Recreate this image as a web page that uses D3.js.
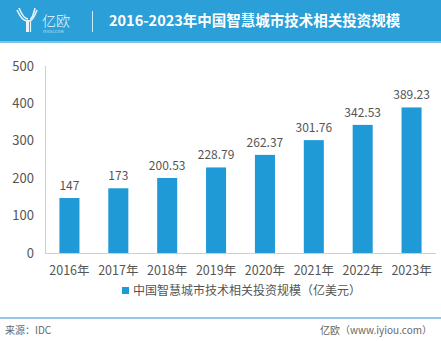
<!DOCTYPE html>
<html>
<head>
<meta charset="utf-8">
<script src="https://cdn.jsdelivr.net/npm/d3@7"></script>
<style>
  html, body { margin: 0; padding: 0; background: #fff; }
  svg { display: block; font-family: "Noto Sans CJK SC", "Noto Sans", sans-serif; }
</style>
</head>
<body>
<svg id="chart" width="441" height="341"></svg>
<script>
const years = ["2016年", "2017年", "2018年", "2019年", "2020年", "2021年", "2022年", "2023年"];
const investment = [147, 173, 200.53, 228.79, 262.37, 301.76, 342.53, 389.23];
const yTicks = [0, 100, 200, 300, 400, 500];
const title = "2016-2023年中国智慧城市技术相关投资规模";
const seriesName = "中国智慧城市技术相关投资规模（亿美元）";
const sourceText = "来源：IDC";
const creditText = "亿欧（www.iyiou.com）";

const svg = d3.select("#chart");
const blue = "#1f9ad6";

// Header band
svg.append("rect").attr("x", 0).attr("y", 0).attr("width", 441).attr("height", 41).attr("fill", "#2a9fd8");
svg.append("rect").attr("x", 0).attr("y", 41).attr("width", 441).attr("height", 2).attr("fill", "#7cc3e6");

// Logo mark: stylised "Y" strokes
const logo = svg.append("g").attr("fill", "none").attr("stroke", "#e6f4fb").attr("stroke-width", 1.6);
[[17, 10, 27, 19], [19, 8, 28, 17], [37, 10, 29, 19], [35, 8, 30, 17]].forEach(d => {
  logo.append("path").attr("d", `M${d[0]},${d[1]} Q${(d[0] + d[2]) / 2},${d[3] + 2} ${d[2]},${d[3] + 2}`);
});
logo.append("line").attr("x1", 27.5).attr("x2", 27.5).attr("y1", 20).attr("y2", 32).attr("stroke-width", 3);
logo.append("line").attr("x1", 30.5).attr("x2", 30.5).attr("y1", 20).attr("y2", 32).attr("stroke-width", 1.2);
svg.append("text").attr("x", 42).attr("y", 26).attr("fill", "#eef8fd").attr("font-size", 14).attr("font-weight", 300).text("亿欧");
svg.append("text").attr("x", 43).attr("y", 33).attr("fill", "#d8eef9").attr("font-size", 3.6).attr("letter-spacing", 0.3).text("IYIOU.COM");
svg.append("line").attr("x1", 92.5).attr("x2", 92.5).attr("y1", 11).attr("y2", 32).attr("stroke", "#cfe9f6").attr("stroke-width", 1);
svg.append("text").attr("x", 109).attr("y", 26).attr("fill", "#fff").attr("font-size", 14.5).attr("font-weight", 700).text(title);

// Plot area
const x = d3.scaleBand().domain(years).range([45, 436]).paddingInner(0.59).paddingOuter(0.295);
const y = d3.scaleLinear().domain([0, 500]).range([253, 66]);

// Axes lines
svg.append("line").attr("x1", 45.5).attr("x2", 45.5).attr("y1", y(500)).attr("y2", y(0)).attr("stroke", "#cfcfcf");
svg.append("line").attr("x1", 45).attr("x2", 436).attr("y1", y(0) + 0.5).attr("y2", y(0) + 0.5).attr("stroke", "#cfcfcf");

// Y tick labels
svg.append("g").selectAll("text").data(yTicks).join("text")
  .attr("x", 34).attr("y", d => y(d) + 4.5)
  .attr("text-anchor", "end").attr("fill", "#555").attr("font-size", 13)
  .text(d => d);

// Bars
svg.append("g").selectAll("rect").data(investment).join("rect")
  .attr("x", (d, i) => x(years[i]))
  .attr("y", d => y(d))
  .attr("width", x.bandwidth())
  .attr("height", d => y(0) - y(d))
  .attr("fill", blue);

// Value labels
svg.append("g").selectAll("text").data(investment).join("text")
  .attr("x", (d, i) => x(years[i]) + x.bandwidth() / 2)
  .attr("y", d => y(d) - 8)
  .attr("text-anchor", "middle").attr("fill", "#555").attr("font-size", 12)
  .text(d => d);

// X labels
svg.append("g").selectAll("text").data(years).join("text")
  .attr("x", d => x(d) + x.bandwidth() / 2)
  .attr("y", 275)
  .attr("text-anchor", "middle").attr("fill", "#555").attr("font-size", 12.5)
  .text(d => d);

// Legend
svg.append("rect").attr("x", 122).attr("y", 287).attr("width", 7).attr("height", 7).attr("fill", blue);
svg.append("text").attr("x", 133).attr("y", 295).attr("fill", "#555").attr("font-size", 12).text(seriesName);

// Footer
svg.append("line").attr("x1", 0).attr("x2", 441).attr("y1", 318).attr("y2", 318).attr("stroke", "#6fb6dc").attr("stroke-width", 1.5);
svg.append("text").attr("x", 5).attr("y", 334).attr("fill", "#666").attr("font-size", 10).text(sourceText);
svg.append("text").attr("x", 432).attr("y", 334).attr("text-anchor", "end").attr("fill", "#666").attr("font-size", 10).text(creditText);
</script>
</body>
</html>
